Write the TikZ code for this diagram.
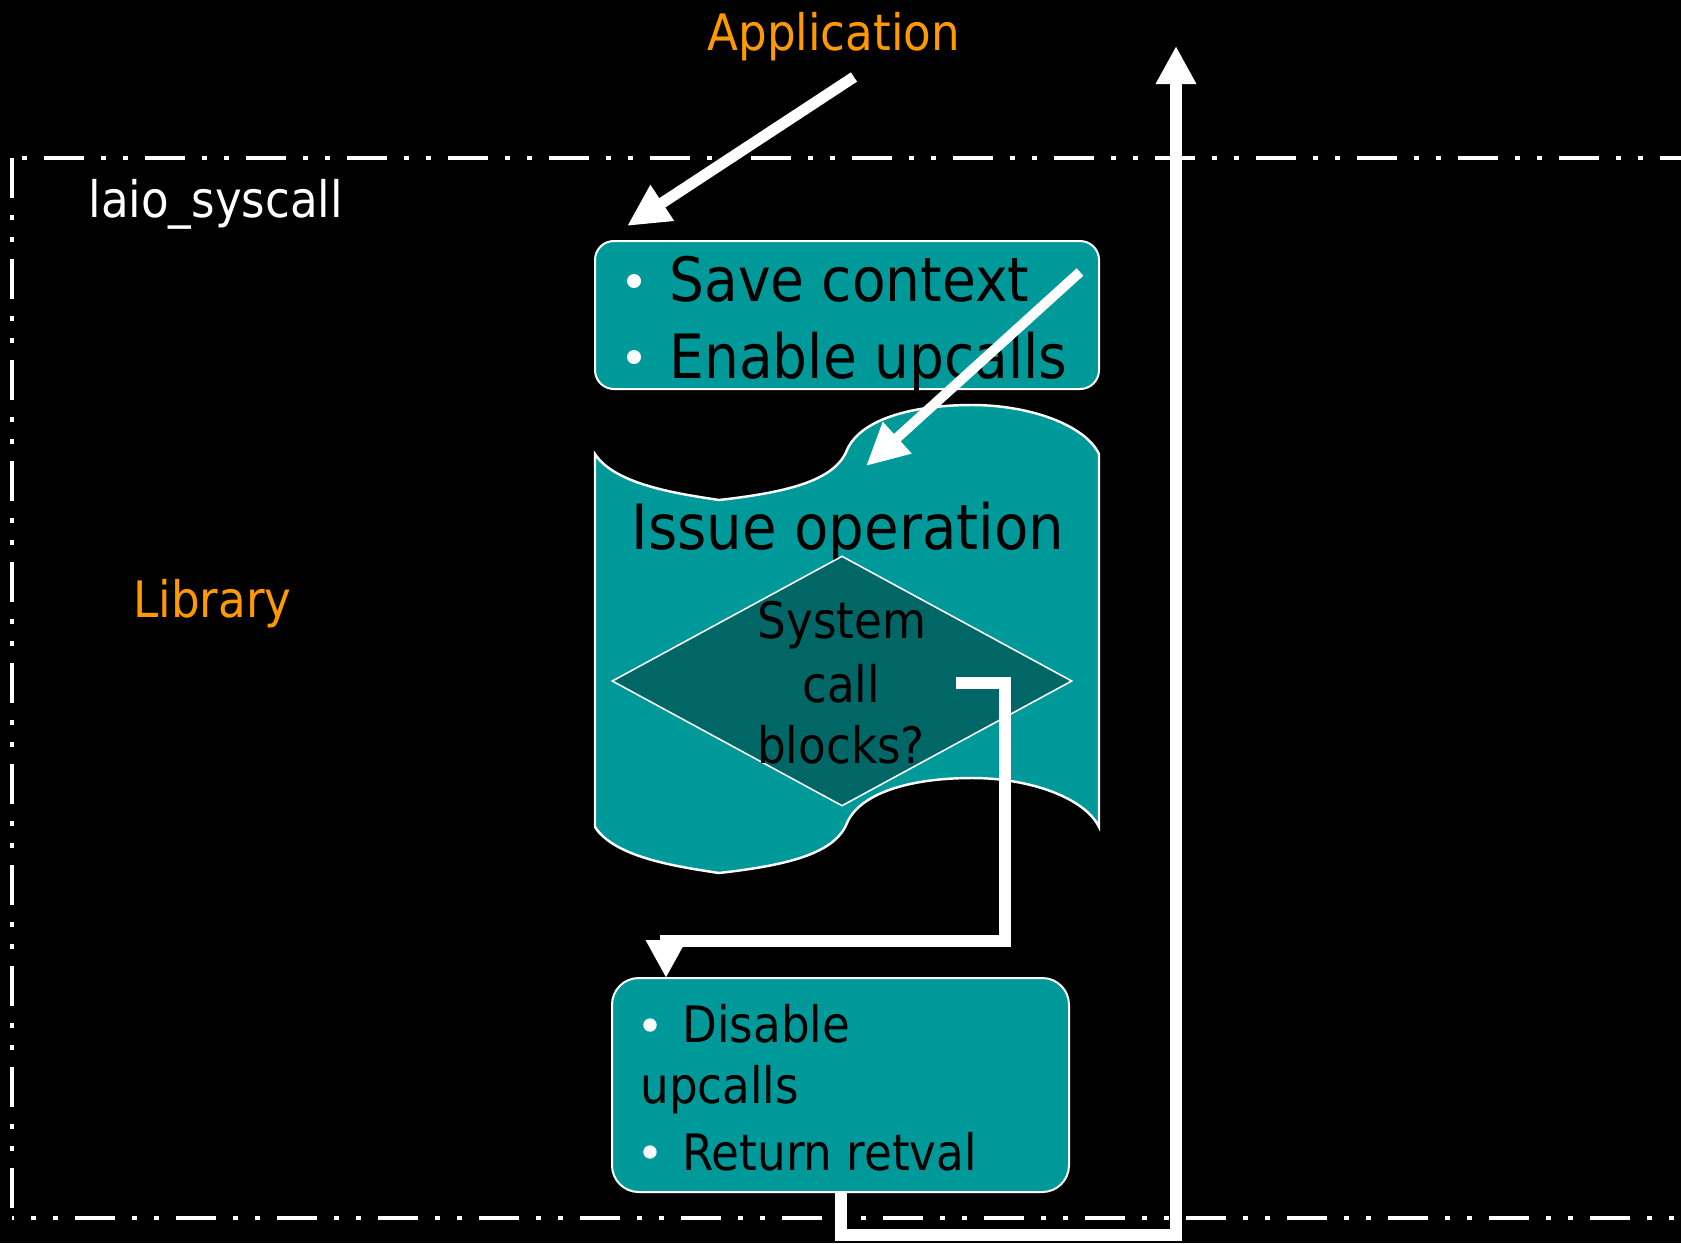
\documentclass[tikz,border=0pt]{standalone}
\usepackage{fontspec}
\setmainfont{DejaVu Sans}[FakeStretch=0.9]
\usetikzlibrary{arrows.meta,shapes.geometric}
\definecolor{tapeteal}{RGB}{0,153,153}
\definecolor{deepteal}{RGB}{0,102,102}
\definecolor{amber}{RGB}{255,153,0}
\newcommand{\smalltext}{\fontsize{22.6pt}{27.5pt}\selectfont}
\newcommand{\bigtext}{\fontsize{27.5pt}{33pt}\selectfont}
\newcommand{\titletext}{\fontsize{28.1pt}{33pt}\selectfont}
\begin{document}
\begin{tikzpicture}[x=0.45pt,y=-0.45pt,
  frameline/.style={white, line width=1.8pt, line cap=butt,
    dash pattern=on 18pt off 7.65pt on 2.25pt off 7.65pt on 2.25pt off 7.65pt},
  flow/.style={white, line width=5.4pt, line cap=butt, miter limit=10,
    -{Triangle[width=17.1pt,length=17.1pt]}},
  slant/.style={flow, -{Triangle[width=18pt,length=19pt]}},
  stepbox/.style={draw=white, line width=0.9pt, fill=tapeteal, inner sep=0pt},
  txt/.style={inner sep=0pt, anchor=base west, font=\smalltext},
  bigtxt/.style={inner sep=0pt, anchor=base west, font=\bigtext, text=black},
  dtxt/.style={inner sep=0pt, anchor=base, font=\smalltext, text=black},
  dot/.style={circle, fill=white, inner sep=0pt}
]
% page and background
\fill[black] (0,0) rectangle (1681,1243);
\useasboundingbox (0,0) rectangle (1681,1243);

% dash-dot library boundary (open on the right)
\draw[frameline, dash phase=31.05pt] (12,158) -- (1681,158);
\draw[frameline] (12,158) -- (12,1218);
\draw[frameline, dash phase=17.1pt] (12,1218) -- (1681,1218);

% labels
\node[txt, text=amber] (app) at (707,50) {Application};
\node[txt, text=white] (sys) at (88,217) {laio\_syscall};
\node[txt, text=amber] (lib) at (133,617) {Library};

% issue operation: punched tape shape
\filldraw[draw=white, line width=1.1pt, fill=tapeteal]
  (595,454) .. controls (615,485) and (680,494) .. (719,500)
  .. controls (790,492) and (835,480) .. (847,450)
  .. controls (860,420) and (910,405) .. (972,405)
  .. controls (1030,405) and (1085,425) .. (1099,454)
  -- (1099,827)
  .. controls (1085,798) and (1030,778) .. (972,778)
  .. controls (910,778) and (860,793) .. (847,823)
  .. controls (835,853) and (790,865) .. (719,873)
  .. controls (680,867) and (615,858) .. (595,827) -- cycle;
\node[bigtxt, font=\titletext] (issue) at (631,549) {Issue operation};

% decision
\node[diamond, draw=white, fill=deepteal, line width=0.7pt, inner sep=0pt,
      minimum width=207pt, minimum height=112.5pt] (test) at (842,681) {};
\node[dtxt] (t1) at (842,638) {System};
\node[dtxt] (t2) at (841,702) {call};
\node[dtxt] (t3) at (841,763) {blocks?};

% entry step
\node[stepbox, rounded corners=8.5pt, minimum width=226.8pt, minimum height=66.6pt] (ctx) at (847,315) {};
\node[dot, minimum size=6.3pt] (b1) at (634,281) {};
\node[dot, minimum size=6.3pt] (b2) at (634,357) {};
\node[bigtxt] (save) at (669,301) {Save context};
\node[bigtxt] (enable) at (669,378) {Enable upcalls};

% exit step
\node[stepbox, rounded corners=12pt, minimum width=205.65pt, minimum height=96.3pt] (done) at (840.5,1085) {};
\node[dot, minimum size=6pt] (b3) at (650,1025) {};
\node[dot, minimum size=6pt] (b4) at (650,1152) {};
\node[txt, text=black] (dis) at (682,1042) {Disable};
\node[txt, text=black] (dis2) at (640,1103) {upcalls};
\node[txt, text=black] (ret) at (682,1170) {Return retval};

% connectors
\coordinate (appOut) at (854,77);
\coordinate (ctxIn) at (627,226);
\draw[slant, line width=5pt] (appOut) -- (ctxIn);

\coordinate (ctxOut) at (1080,272);
\coordinate (tapeIn) at (866,466);
\draw[slant, line width=4.5pt] (ctxOut) -- (tapeIn);

\coordinate (blockOut) at (956,683);
\coordinate (blockLow) at (1005,941);
\coordinate (doneIn) at (666,978);
\draw[flow] (blockOut) -| (blockLow) -| (doneIn);

\coordinate (retCorner) at (1176,1235);
\coordinate (retTip) at (1176,46);
\draw[flow] (done.south) |- (retCorner) -- (retTip);
\end{tikzpicture}
\end{document}
